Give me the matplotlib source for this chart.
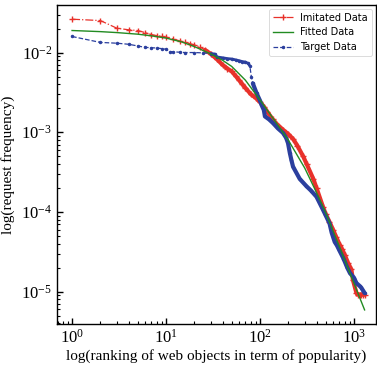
import matplotlib
matplotlib.use("Agg")
import matplotlib.pyplot as plt
import numpy as np

# ---------------- data ----------------
imit_rank = [1, 2, 3, 4, 5, 6, 7, 8, 9, 10, 12, 14, 16, 18, 20, 23, 26, 30, 35, 40,
             45, 50, 55, 60, 65, 70, 80, 90, 100, 110, 120, 137, 150, 175, 200, 226,
             250, 288, 314, 370, 400, 470, 500, 550, 600, 650, 706, 750, 800, 865,
             940, 977, 1065, 1100, 1150, 1200, 1250, 1300]
imit_freq = [0.0262, 0.0252, 0.0202, 0.0193, 0.0189, 0.0178, 0.0168, 0.0163, 0.0159,
             0.0156, 0.0148, 0.0140, 0.0134, 0.0129, 0.0125, 0.0117, 0.0108, 0.0096,
             0.0082, 0.0070, 0.0063, 0.0058, 0.0051, 0.0045, 0.0040, 0.0036, 0.0030,
             0.0027, 0.0024, 0.0021, 0.0018, 0.00145, 0.00128, 0.00108, 0.00095,
             0.00082, 0.00068, 0.00050, 0.00040, 0.00026, 0.00020, 0.000115,
             0.0000950, 0.0000750, 0.0000600, 0.0000480, 0.0000390, 0.0000340,
             0.0000290, 0.0000230, 0.0000190, 0.0000140, 0.0000096, 0.0000092,
             0.0000092, 0.0000092, 0.0000092, 0.0000092]

target_rank = [1, 2, 3, 4, 5, 6, 7, 8, 9, 10, 11, 12, 14, 16, 20, 25, 30, 33, 35, 40,
               45, 50, 55, 60, 65, 70, 75, 78, 81, 84, 92, 100, 104, 110, 113, 125,
               138, 155, 176, 190, 199, 208, 216, 225, 265, 313, 350, 400, 470, 550,
               580, 625, 660, 700, 775, 850, 910, 1000, 1065, 1150, 1200, 1260, 1300]
target_freq = [0.0159, 0.0134, 0.0131, 0.0127, 0.0121, 0.0116, 0.0115, 0.0114, 0.0112,
               0.0110, 0.0103, 0.0102, 0.0101, 0.0100, 0.0100, 0.0099, 0.0097, 0.0096,
               0.0088, 0.0086, 0.0084, 0.0083, 0.0081, 0.0079, 0.0077, 0.0076, 0.0073,
               0.0068, 0.0050, 0.0041, 0.0031, 0.0025, 0.0022, 0.0019, 0.00158,
               0.00145, 0.0013, 0.00112, 0.00098, 0.00085, 0.00073, 0.00055, 0.00045,
               0.00037, 0.00026, 0.00021, 0.000185, 0.000155, 0.000106, 0.0000720,
               0.0000550, 0.0000420, 0.0000380, 0.0000330, 0.0000260, 0.0000200,
               0.0000170, 0.0000150, 0.0000128, 0.0000118, 0.0000112, 0.0000102,
               0.0000096]

fit_rank = [1, 2, 3, 5, 7, 10, 15, 20, 30, 40, 50, 70, 100, 150, 200, 300, 400, 500,
            700, 1000, 1300]
fit_freq = [0.0189, 0.0183, 0.0178, 0.0170, 0.0162, 0.0152, 0.0135, 0.0119, 0.0096,
            0.0080, 0.0067, 0.0045, 0.00255, 0.0013, 0.00080, 0.000355, 0.000175,
            0.000098, 0.000037, 0.0000128, 0.0000059]

xlabel = "log(ranking of web objects in term of popularity)"
ylabel = "log(request frequency)"
legend_labels = ["Imitated Data", "Fitted Data", "Target Data"]

# ---------------- figure ----------------
plt.rcParams["mathtext.fontset"] = "stix"
serif = "Liberation Serif"

fig = plt.figure(figsize=(3.77, 3.71), dpi=100)
ax = fig.add_axes([0.151, 0.127, 0.846, 0.860])

red = "#e8312a"
blue = "#2b3f9e"
green = "#228b22"

ir = np.array(imit_rank); iff = np.array(imit_freq)
tr = np.array(target_rank); tf = np.array(target_freq)

# dense regions drawn as thick bands (many overlapping markers in the reference)
mi = ir >= 26
ax.plot(ir[mi], iff[mi], color=red, lw=3.0, solid_capstyle="round", zorder=2)
mt1 = (tr >= 30) & (tr <= 78)
ax.plot(tr[mt1], tf[mt1], color=blue, lw=2.0, solid_capstyle="round", zorder=3)
mt2 = tr >= 84
ax.plot(tr[mt2], tf[mt2], color=blue, lw=3.0, solid_capstyle="round", zorder=3)

l1, = ax.plot(ir, iff, color=red, ls="-.", lw=0.9, marker="+", ms=4, mew=1.0,
              label=legend_labels[0], zorder=2)
l2, = ax.plot(fit_rank, fit_freq, color=green, ls="-", lw=1.0,
              label=legend_labels[1], zorder=4)
l3, = ax.plot(tr, tf, color=blue, ls="--", lw=0.9, marker=".", ms=3,
              label=legend_labels[2], zorder=3)

ax.set_xscale("log")
ax.set_yscale("log")
ax.set_xlim(0.69, 1714)
ax.set_ylim(3.94e-6, 0.0397)

ax.tick_params(which="both", direction="in", top=False, right=False)
ax.tick_params(which="major", length=4, width=1.0, labelsize=12)
ax.tick_params(which="minor", length=2, width=0.8)
for lab in ax.get_xticklabels() + ax.get_yticklabels():
    lab.set_fontfamily(serif)
for s in ax.spines.values():
    s.set_linewidth(1.0)

ax.set_xlabel(xlabel, fontfamily=serif, fontsize=11, labelpad=2)
ax.set_ylabel(ylabel, fontfamily=serif, fontsize=11, labelpad=4)

leg = ax.legend(handles=[l1, l2, l3], loc="upper right",
                prop={"family": "DejaVu Sans", "size": 7},
                frameon=True, fancybox=True, borderaxespad=0.4,
                handlelength=2.0)
leg.get_frame().set_linewidth(0.6)

fig.savefig("out.png", dpi=100)
